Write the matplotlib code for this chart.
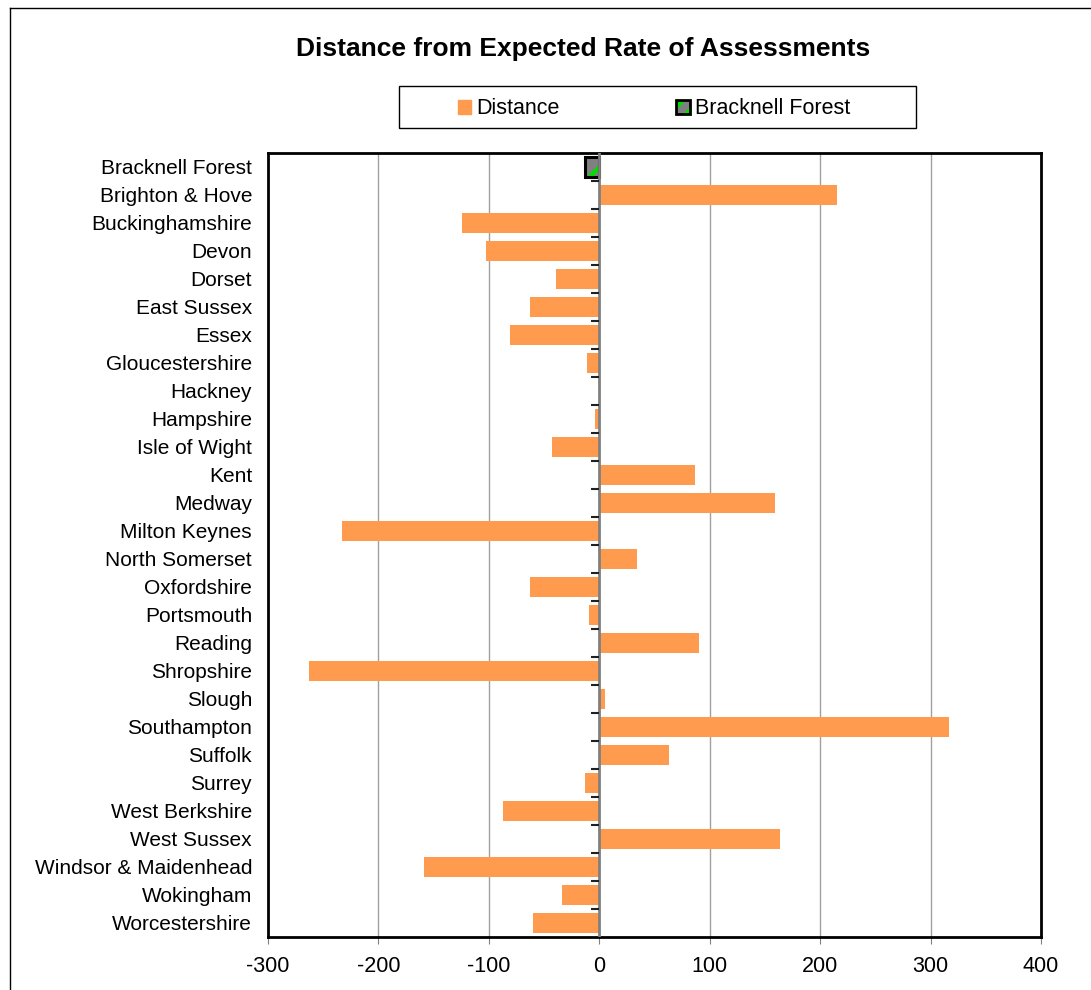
import matplotlib.pyplot as plt
from matplotlib.patches import Patch, Rectangle
from matplotlib.lines import Line2D
from matplotlib.legend_handler import HandlerTuple

plt.rcParams["font.family"] = ["Liberation Sans", "DejaVu Sans"]
plt.rcParams["hatch.linewidth"] = 3

areas = [
    "Bracknell Forest", "Brighton & Hove", "Buckinghamshire", "Devon", "Dorset",
    "East Sussex", "Essex", "Gloucestershire", "Hackney", "Hampshire",
    "Isle of Wight", "Kent", "Medway", "Milton Keynes", "North Somerset",
    "Oxfordshire", "Portsmouth", "Reading", "Shropshire", "Slough",
    "Southampton", "Suffolk", "Surrey", "West Berkshire", "West Sussex",
    "Windsor & Maidenhead", "Wokingham", "Worcestershire",
]
distance = [
    -13, 215, -124, -103, -39,
    -63, -81, -11, 0, -4,
    -43, 87, 159, -233, 34,
    -63, -9, 90, -263, 5,
    317, 63, -13, -87, 164,
    -159, -34, -60,
]
highlight = "Bracknell Forest"
xticks = [-300, -200, -100, 0, 100, 200, 300, 400]

orange = "#FF9B4E"
W, H = 1091, 990
fig = plt.figure(figsize=(W / 100, H / 100), dpi=100)
ax = fig.add_axes([268 / W, 1 - 937 / H, (1041 - 268) / W, (937 - 153) / H])

ypos = list(range(len(areas)))
others = [d if a != highlight else 0 for a, d in zip(areas, distance)]
ax.barh(ypos, others, height=0.7, color=orange, zorder=2)

hi = areas.index(highlight)
ax.barh(hi, distance[hi], height=0.7, color="#808080", hatch="/",
        edgecolor="#00E000", linewidth=0, zorder=3)
ax.barh(hi, distance[hi], height=0.7, fill=False, edgecolor="black",
        linewidth=2.2, zorder=4)

ax.set_xlim(-300, 400)
ax.set_ylim(len(areas) - 0.5, -0.5)
ax.set_xticks(xticks)
ax.set_xticklabels([str(t) for t in xticks], fontsize=15.5)
ax.tick_params(axis="x", length=5, color="#808080", pad=9)
ax.set_yticks(ypos)
ax.set_yticklabels(areas, fontsize=15)
ax.tick_params(axis="y", length=0, pad=11.5)

for t in xticks[1:-1]:
    if t != 0:
        ax.axvline(t, color="#A0A0A0", lw=1, zorder=1)
ax.axvline(0, color="#808080", lw=2, zorder=5)

for s in ax.spines.values():
    s.set_linewidth(2)
    s.set_color("black")

# small tick marks on the zero line between categories
ax2 = ax.twinx()
ax2.set_ylim(ax.get_ylim())
for side in ["right", "top", "bottom", "left"]:
    ax2.spines[side].set_visible(False)
ax2.spines["left"].set_position(("data", 0))
ax2.yaxis.set_ticks_position("left")
ax2.set_yticks([i + 0.5 for i in range(len(areas) - 1)])
ax2.set_yticklabels([])
ax2.tick_params(axis="y", length=6, width=1.5, color="#202020")

fig.text(583 / W, 1 - 49 / H, "Distance from Expected Rate of Assessments",
         ha="center", va="center", fontsize=19, fontweight="bold")

bf_fill = Patch(facecolor="#808080", edgecolor="#00E000", hatch="//", linewidth=0)
bf_edge = Patch(fill=False, edgecolor="black", linewidth=2)
handles = [Patch(facecolor=orange, edgecolor=orange), (bf_fill, bf_edge)]
fig.legend(handles, ["Distance", "Bracknell Forest"], loc="center",
           bbox_to_anchor=(654 / W, 1 - 109 / H), ncol=2, frameon=False,
           fontsize=15.5, handlelength=0.62, handleheight=0.62,
           handletextpad=0.25, columnspacing=5.4,
           handler_map={tuple: HandlerTuple(ndivide=1, pad=0)})
fig.patches.append(Rectangle((399 / W, 1 - 128 / H), 517 / W, 42 / H,
                             transform=fig.transFigure, fill=False,
                             edgecolor="black", lw=1))

fig.lines.append(Line2D([10 / W, 10 / W], [0, 1 - 8 / H], transform=fig.transFigure,
                        color="black", lw=1))
fig.lines.append(Line2D([10 / W, 1], [1 - 8 / H, 1 - 8 / H], transform=fig.transFigure,
                        color="black", lw=1))

fig.savefig("out.png", dpi=100)
